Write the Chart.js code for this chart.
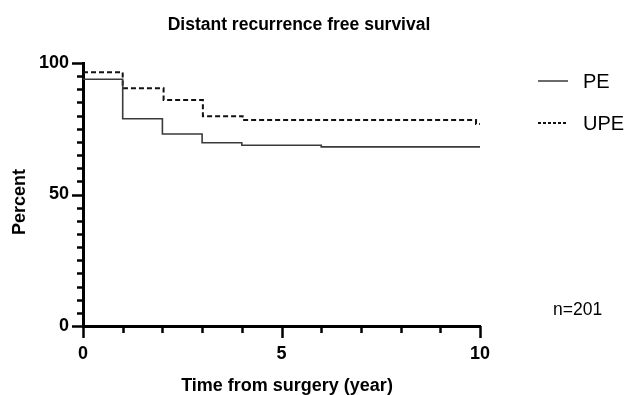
<!DOCTYPE html>
<html>
<head>
<meta charset="utf-8">
<script src="https://cdn.jsdelivr.net/npm/chart.js@4.4.1/dist/chart.umd.min.js"></script>
<style>
html,body{margin:0;padding:0;background:#fff;}
#wrap{width:628px;height:395px;position:relative;}
</style>
</head>
<body>
<div id="wrap"><canvas id="c" width="628" height="395"></canvas></div>
<script>
// ---- data ----
const seriesNames = ['PE', 'UPE'];
const peTimes = [0, 1, 2, 3, 4, 6, 10];
const peValues = [93.8, 78.8, 73.0, 69.7, 68.7, 68.1, 68.1];
const upeTimes = [0, 1, 2.03, 3.02, 4.02, 9.9, 10];
const upeValues = [96.5, 90.4, 85.9, 79.8, 78.3, 76.8, 76.8];
const xTickLabels = [0, 5, 10];
const yTickLabels = [0, 50, 100];
const xMinorStep = 1;
const yMinorStep = 5;
const titleText = 'Distant recurrence free survival';
const xTitle = 'Time from surgery (year)';
const yTitle = 'Percent';
const noteText = 'n=201';

const FONT = '"Liberation Sans", Arial, sans-serif';

function toPts(xs, ys) { return xs.map((x, i) => ({x: x, y: ys[i]})); }

const decor = {
  id: 'decor',
  afterDraw(chart) {
    const ctx = chart.ctx;
    const xs = chart.scales.x, ys = chart.scales.y;
    const ca = chart.chartArea;
    ctx.save();
    ctx.strokeStyle = '#000';
    ctx.lineWidth = 2.5;
    ctx.lineCap = 'butt';
    // y ticks
    for (let v = ys.min; v <= ys.max + 1e-9; v += yMinorStep) {
      const py = Math.round(ys.getPixelForValue(v)) + 0.5;
      const major = yTickLabels.includes(v);
      const len = major ? 11 : 6;
      ctx.beginPath();
      ctx.moveTo(ca.left - len, py);
      ctx.lineTo(ca.left, py);
      ctx.stroke();
    }
    // x ticks
    for (let v = xs.min; v <= xs.max + 1e-9; v += xMinorStep) {
      const px = Math.round(xs.getPixelForValue(v)) + 0.5;
      const major = xTickLabels.includes(v);
      const len = major ? 12 : 7;
      ctx.beginPath();
      ctx.moveTo(px, ca.bottom);
      ctx.lineTo(px, ca.bottom + len);
      ctx.stroke();
    }
    // texts
    ctx.fillStyle = '#000';
    ctx.font = 'bold 17.5px ' + FONT;
    ctx.textAlign = 'center';
    ctx.textBaseline = 'alphabetic';
    ctx.fillText(titleText, 299, 29.5);
    ctx.font = 'bold 18px ' + FONT;
    ctx.fillText(xTitle, 287, 391);
    ctx.save();
    ctx.translate(25, 202);
    ctx.rotate(-Math.PI / 2);
    ctx.fillText(yTitle, 0, 0);
    ctx.restore();
    ctx.font = '17.5px ' + FONT;
    ctx.textAlign = 'left';
    ctx.fillText(noteText, 553, 315);
    // legend
    const items = [
      {name: seriesNames[0], y: 81, dash: [], color: '#3a3a3a', w: 1.5},
      {name: seriesNames[1], y: 123, dash: [3, 2], color: '#111', w: 2}
    ];
    ctx.font = '20px ' + FONT;
    ctx.textBaseline = 'middle';
    items.forEach(it => {
      ctx.beginPath();
      ctx.setLineDash(it.dash);
      ctx.strokeStyle = it.color;
      ctx.lineWidth = it.w;
      ctx.moveTo(538, it.y);
      ctx.lineTo(568, it.y);
      ctx.stroke();
      ctx.setLineDash([]);
      ctx.fillText(it.name, 583, it.y + 1);
    });
    ctx.restore();
  }
};

new Chart(document.getElementById('c'), {
  type: 'line',
  data: {
    datasets: [
      {
        label: seriesNames[0],
        data: toPts(peTimes, peValues),
        stepped: true,
        borderColor: '#3a3a3a',
        borderWidth: 1.6,
        pointRadius: 0,
        fill: false,
        clip: false
      },
      {
        label: seriesNames[1],
        data: toPts(upeTimes, upeValues),
        stepped: true,
        borderColor: '#111',
        borderWidth: 2,
        borderDash: [5, 3],
        pointRadius: 0,
        fill: false,
        clip: false
      }
    ]
  },
  options: {
    responsive: false,
    animation: false,
    layout: {padding: {left: 0, top: 63, right: 148, bottom: 0}},
    plugins: {legend: {display: false}, title: {display: false}, tooltip: {enabled: false}},
    scales: {
      x: {
        type: 'linear',
        min: 0, max: 10,
        afterFit(s) { s.height = 69; },
        afterBuildTicks(s) { s.ticks = xTickLabels.map(v => ({value: v})); },
        grid: {display: false, drawTicks: false},
        border: {display: true, color: '#000', width: 3},
        ticks: {
          padding: 17,
          color: '#000',
          font: {family: FONT, size: 18, weight: 'bold'},
          maxRotation: 0
        }
      },
      y: {
        type: 'linear',
        min: 0, max: 100,
        afterFit(s) { s.width = 83; },
        afterBuildTicks(s) { s.ticks = yTickLabels.map(v => ({value: v})); },
        grid: {display: false, drawTicks: false},
        border: {display: true, color: '#000', width: 3},
        ticks: {
          padding: 14,
          color: '#000',
          font: {family: FONT, size: 18, weight: 'bold'}
        }
      }
    }
  },
  plugins: [decor]
});
</script>
</body>
</html>
